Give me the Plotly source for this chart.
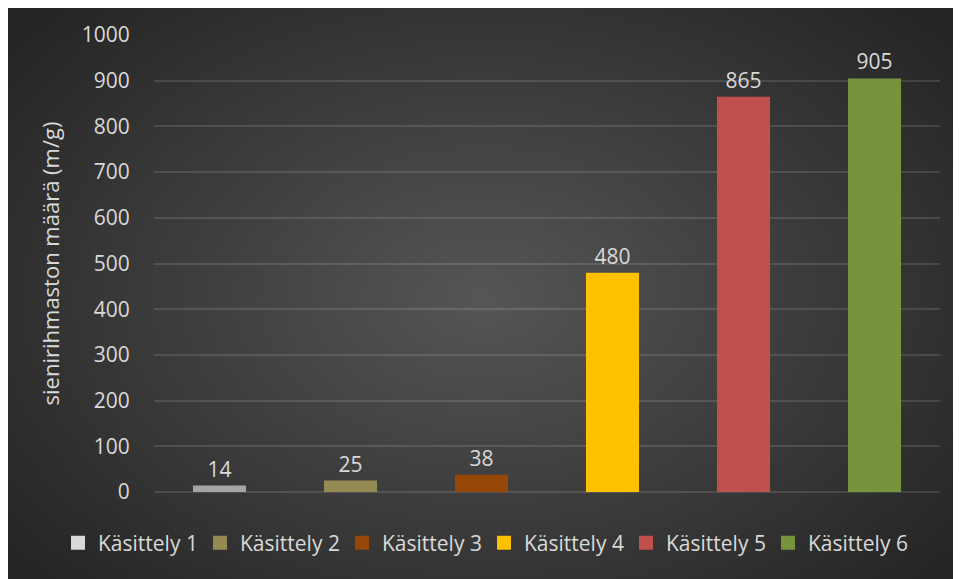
import base64
import struct
import zlib

import numpy as np
import plotly.graph_objects as go

categories = ["Käsittely 1", "Käsittely 2", "Käsittely 3", "Käsittely 4", "Käsittely 5", "Käsittely 6"]
values = [14, 25, 38, 480, 865, 905]
bar_colors = ["#A5A5A5", "#948A54", "#974706", "#FFC000", "#C0504D", "#77933C"]
legend_colors = ["#D9D9D9", "#948A54", "#974706", "#FFC000", "#C0504D", "#77933C"]
y_title = "sienirihmaston määrä (m/g)"

W, H = 961, 579
L, R, T, B = 146, 29, 27, 95
pw, ph = W - L - R, H - T - B


def make_bg(w, h):
    yy, xx = np.mgrid[0:h, 0:w].astype(float)
    cx, cy = 475.0, 290.0
    t = np.sqrt(((xx - cx) / 620.0) ** 2 + ((yy - cy) / 420.0) ** 2)
    t = np.clip(t, 0, 1)
    c0, c1 = 86.0, 36.0
    v = (c0 + (c1 - c0) * t).astype(np.uint8)
    img = np.stack([v, v, v], axis=-1)
    raw = b"".join(b"\x00" + img[r].tobytes() for r in range(h))

    def chunk(tag, data):
        c = struct.pack(">I", len(data)) + tag + data
        return c + struct.pack(">I", zlib.crc32(tag + data) & 0xFFFFFFFF)

    png = b"\x89PNG\r\n\x1a\n"
    png += chunk(b"IHDR", struct.pack(">IIBBBBB", w, h, 8, 2, 0, 0, 0))
    png += chunk(b"IDAT", zlib.compress(raw, 9))
    png += chunk(b"IEND", b"")
    return "data:image/png;base64," + base64.b64encode(png).decode()


bg_src = make_bg(W, H)

fig = go.Figure()
for cat, val, col in zip(categories, values, bar_colors):
    fig.add_trace(go.Bar(
        x=[cat], y=[val], name=cat, marker=dict(color=col, line=dict(width=0)),
        text=[str(val)], textposition="outside", cliponaxis=False,
        textfont=dict(family="Open Sans", size=21, color="#D9D9D9"),
        showlegend=False,
    ))
for cat, col in zip(categories, legend_colors):
    fig.add_trace(go.Scatter(
        x=[None], y=[None], name=cat, mode="markers",
        marker=dict(color=col, symbol="square", size=14, line=dict(width=0)),
        showlegend=True,
    ))

fig.update_layout(
    width=W, height=H,
    margin=dict(l=L, r=R, t=T, b=B, pad=0),
    paper_bgcolor="#262626",
    plot_bgcolor="rgba(0,0,0,0)",
    barmode="overlay",
    bargap=0.595,
    font=dict(family="Open Sans", size=20, color="#D9D9D9"),
    images=[dict(
        source=bg_src, xref="paper", yref="paper",
        x=-L / pw, y=(H - B) / ph,
        sizex=W / pw, sizey=H / ph,
        xanchor="left", yanchor="top", sizing="stretch", layer="below",
    )],
    legend=dict(
        orientation="h", x=(50 - L) / pw, xanchor="left",
        y=(T + ph - 535) / ph, yanchor="middle",
        entrywidth=97, entrywidthmode="pixels",
        font=dict(family="Open Sans", size=21, color="#D9D9D9"),
        bgcolor="rgba(0,0,0,0)", itemclick=False,
    ),
    showlegend=True,
)
fig.update_xaxes(
    showticklabels=False, showgrid=False, zeroline=False, showline=False,
    categoryorder="array", categoryarray=categories,
)
fig.update_yaxes(
    range=[0, 1000], dtick=100, tick0=0,
    showgrid=True, gridcolor="rgba(255,255,255,0.12)", gridwidth=1.5,
    zeroline=True, zerolinecolor="rgba(255,255,255,0.12)", zerolinewidth=1.5,
    showline=False,
    ticks="outside", ticklen=19, tickcolor="rgba(0,0,0,0)",
    tickfont=dict(family="Open Sans", size=21, color="#D9D9D9"),
    title=dict(text=y_title, standoff=16,
               font=dict(family="Open Sans", size=22, color="#D9D9D9")),
)

fig.write_html("out.html")
